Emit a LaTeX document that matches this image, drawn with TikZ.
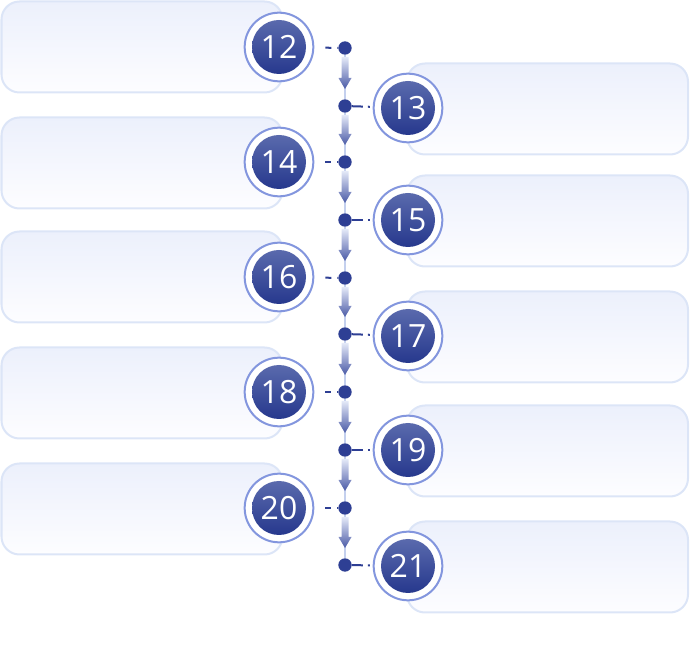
\documentclass[tikz,border=0pt]{standalone}
\usepackage{fontspec}
\setmainfont{Open Sans}
\usetikzlibrary{calc}
\definecolor{boxtop}{HTML}{ECF0FC}
\definecolor{boxbot}{HTML}{FDFDFF}
\definecolor{boxedge}{HTML}{DCE5F7}
\definecolor{ringc}{HTML}{8396DE}
\definecolor{numtop}{HTML}{5A6AAD}
\definecolor{numbot}{HTML}{26388D}
\definecolor{dotc}{HTML}{2E3F94}
\definecolor{spinec}{HTML}{C4D0EE}
\definecolor{arrtop}{HTML}{E4E9F8}
\definecolor{arrbot}{HTML}{4A5AA6}
\begin{document}
\begin{tikzpicture}[x=0.75pt,y=-0.75pt,
  card/.style={draw=boxedge, line width=1.5pt, rounded corners=13.5pt, top color=boxtop, bottom color=boxbot, minimum width=210.75pt, minimum height=68.25pt, inner sep=0pt},
  ring/.style={circle, minimum size=51.5pt, inner sep=0pt, fill=white, draw=ringc, line width=1.5pt},
  num/.style={circle, minimum size=40.5pt, inner sep=0pt, top color=numtop, bottom color=numbot, text=white, font=\fontsize{24}{24}\selectfont},
  dotn/.style={circle, minimum size=10pt, inner sep=0pt, fill=dotc},
  spine/.style={draw=spinec, line width=2.2pt},
  ldash/.style={draw=dotc, line width=1.5pt, dash pattern=on 0pt off 8.25pt on 4.5pt off 4.5pt on 20pt},
  rdash/.style={draw=dotc, line width=1.5pt, dash pattern=on 8.25pt off 3.75pt on 1.5pt off 20pt},
  arr/.style={top color=arrtop, bottom color=arrbot, draw=none}]
\useasboundingbox (0,0) rectangle (690,670);
% cards
\foreach \n/\y in {12/47,14/163,16/277,18/393,20/509}
  \node[card] (b\n) at (142,\y) {};
\foreach \n/\y in {13/109,15/221,17/337,19/451,21/567}
  \node[card] (b\n) at (547.5,\y) {};
% dots
\foreach \n/\y in {12/48,13/106,14/162,15/220,16/278,17/334,18/392,19/450,20/508,21/565}
  \node[dotn] (d\n) at (345,\y) {};
% spine and arrows
\foreach \a/\b/\ya/\yb in {12/13/48/106,13/14/106/162,14/15/162/220,15/16/220/278,16/17/278/334,17/18/334/392,18/19/392/450,19/20/450/508,20/21/508/565}{
  \draw[spine] (d\a) -- (d\b);
  \shade[arr] (341.5,\ya+9) -- (348.5,\ya+9) -- (348.5,\yb-28) -- (351.5,\yb-28) -- (345,\yb-17) -- (338.5,\yb-28) -- (341.5,\yb-28) -- cycle;
}
% circles
\foreach \n/\y in {12/47,14/162,16/277,18/392,20/508}{
  \node[ring] (c\n) at (279,\y) {};
  \node[num] (n\n) at (c\n) {\n};
  \draw[ldash] (c\n) -- (d\n);
}
\foreach \n/\y in {13/108,15/220,17/336,19/450,21/566}{
  \node[ring] (c\n) at (408,\y) {};
  \node[num] (n\n) at (c\n) {\n};
  \draw[rdash] (d\n) -- (c\n);
}
\end{tikzpicture}
\end{document}
